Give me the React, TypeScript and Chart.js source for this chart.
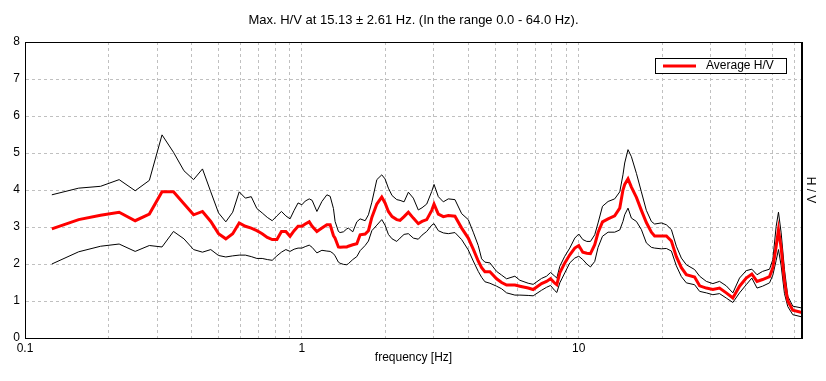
import React, { useEffect, useRef } from 'react';
import { Chart, registerables } from 'chart.js';

Chart.register(...registerables);

const FONT = '"Liberation Sans", Arial, Helvetica, sans-serif';
const TITLE = 'Max. H/V at 15.13 ± 2.61 Hz. (In the range 0.0 - 64.0 Hz).';
const X_TITLE = 'frequency [Hz]';
const Y_TITLE = 'H / V';
const AVERAGE_LABEL = 'Average H/V';

const frequencies = [
  0.125, 0.15625, 0.1875, 0.21875, 0.25, 0.28125, 0.3125, 0.34375, 0.375, 0.40625,
  0.4375, 0.46875, 0.5, 0.53125, 0.5625, 0.59375, 0.625, 0.65625, 0.6875, 0.71875,
  0.75, 0.78125, 0.8125, 0.84375, 0.875, 0.90625, 0.9375, 0.96875,
  1.0, 1.028, 1.063, 1.089, 1.133, 1.181, 1.231, 1.265, 1.3, 1.318,
  1.355, 1.374, 1.413, 1.453, 1.472, 1.527, 1.579, 1.623, 1.692, 1.739,
  1.789, 1.865, 1.943, 1.997, 2.053, 2.117, 2.201, 2.262, 2.339, 2.424,
  2.526, 2.633, 2.716, 2.824, 2.944, 3.001, 3.11, 3.242, 3.379, 3.571,
  3.776, 3.989, 4.158, 4.334, 4.458, 4.581, 4.776, 5.049, 5.264, 5.487,
  5.878, 6.127, 6.565, 6.843, 7.337, 7.648, 7.907, 8.194, 8.331, 8.541,
  8.902, 9.28, 9.673, 10.0, 10.34, 10.69, 11.02, 11.42, 11.74, 12.18,
  12.76, 13.48, 14.06, 14.44, 14.65, 15.06, 15.49, 16.15, 16.83, 17.54,
  18.29, 18.79, 19.87, 20.72, 21.6, 22.51, 23.47, 24.46, 26.2, 27.32,
  28.88, 30.5, 32.24, 34.09, 36.01, 38.07, 40.25, 42.17, 44.03, 46.1,
  48.86, 50.22, 51.63, 52.63, 53.82, 55.32, 56.86, 59.28, 64.0,
];

const upperHV = [
  3.87, 4.05, 4.1, 4.28, 3.98, 4.26, 5.49, 5.02, 4.52, 4.28,
  4.57, 3.95, 3.38, 3.14, 3.4, 3.95, 3.78, 3.82, 3.5, 3.38,
  3.26, 3.17, 3.3, 3.42, 3.3, 3.22, 3.45, 3.65,
  3.6, 3.7, 3.76, 3.72, 3.42, 3.69, 3.87, 3.83, 3.5, 3.15,
  2.88, 2.85, 2.87, 2.95, 2.97, 2.87, 3.14, 3.22, 3.17, 3.33,
  3.67, 4.28, 4.41, 4.3, 4.05, 3.85, 3.74, 3.72, 3.68, 3.94,
  3.78, 3.46, 3.52, 3.62, 3.96, 4.15, 3.82, 3.68, 3.76, 3.74,
  3.36, 3.2, 2.86, 2.5, 2.14, 2.05, 2.03, 1.8, 1.7, 1.6,
  1.67, 1.56, 1.48, 1.45, 1.61, 1.67, 1.77, 1.67, 1.62, 1.94,
  2.21, 2.43, 2.7, 2.81, 2.66, 2.61, 2.61, 2.79, 3.11, 3.56,
  3.69, 3.76, 3.95, 4.41, 4.73, 5.09, 4.9, 4.45, 3.95, 3.45,
  3.15, 3.08, 3.11, 3.06, 2.93, 2.48, 2.16, 1.98, 1.85, 1.67,
  1.53, 1.47, 1.53, 1.41, 1.22, 1.62, 1.82, 1.86, 1.71, 1.8,
  1.86, 2.12, 3.02, 3.4, 2.84, 1.85, 1.13, 0.86, 0.81,
];

const averageHV = [
  2.95, 3.2, 3.32, 3.4, 3.17, 3.35, 3.95, 3.95, 3.63, 3.33,
  3.42, 3.15, 2.82, 2.68, 2.82, 3.11, 3.02, 2.97, 2.9, 2.82,
  2.72, 2.66, 2.66, 2.88, 2.88, 2.75, 2.9, 3.02,
  3.02, 3.08, 3.14, 3.02, 2.88, 2.97, 3.06, 3.06, 2.77, 2.7,
  2.46, 2.45, 2.46, 2.46, 2.48, 2.52, 2.55, 2.79, 2.81, 2.9,
  3.26, 3.62, 3.81, 3.65, 3.42, 3.28, 3.2, 3.18, 3.28, 3.4,
  3.24, 3.09, 3.15, 3.2, 3.45, 3.62, 3.35, 3.28, 3.31, 3.29,
  2.97, 2.7, 2.4, 2.08, 1.9, 1.79, 1.79, 1.6, 1.5, 1.43,
  1.43, 1.4, 1.35, 1.31, 1.47, 1.53, 1.6, 1.48, 1.44, 1.76,
  2.03, 2.25, 2.43, 2.5, 2.32, 2.29, 2.28, 2.52, 2.85, 3.14,
  3.22, 3.3, 3.51, 4.0, 4.15, 4.3, 4.08, 3.8, 3.45, 3.12,
  2.86, 2.76, 2.76, 2.76, 2.62, 2.2, 1.9, 1.71, 1.65, 1.41,
  1.35, 1.31, 1.35, 1.22, 1.08, 1.4, 1.62, 1.73, 1.53, 1.58,
  1.66, 1.9, 2.48, 2.93, 2.43, 1.53, 1.0, 0.75, 0.69,
];

const lowerHV = [
  2.0, 2.33, 2.48, 2.54, 2.34, 2.5, 2.46, 2.88, 2.68, 2.39,
  2.32, 2.39, 2.23, 2.19, 2.22, 2.24, 2.24, 2.2, 2.15, 2.15,
  2.12, 2.1, 2.22, 2.32, 2.39, 2.34, 2.4, 2.43,
  2.43, 2.47, 2.51, 2.45, 2.3, 2.37, 2.35, 2.34, 2.28, 2.22,
  2.05, 2.02, 1.99, 1.98, 2.01, 2.12, 2.2, 2.36, 2.5, 2.62,
  2.9, 3.05, 3.2, 3.05, 2.8, 2.68, 2.61, 2.7, 2.8, 2.82,
  2.7, 2.67, 2.78, 2.88, 3.05, 3.09, 2.9, 2.84, 2.82, 2.85,
  2.66, 2.38, 2.08, 1.8, 1.64, 1.52, 1.48, 1.4, 1.33, 1.22,
  1.16, 1.16, 1.15, 1.14, 1.29, 1.37, 1.42, 1.28, 1.23, 1.49,
  1.76, 2.03, 2.16, 2.21, 2.12, 2.0, 1.92, 2.07, 2.45, 2.75,
  2.86, 2.86, 2.92, 3.15, 3.33, 3.51, 3.24, 3.15, 2.93, 2.57,
  2.45, 2.43, 2.41, 2.42, 2.35, 1.95, 1.66, 1.49, 1.44, 1.26,
  1.22, 1.17, 1.2, 1.08, 0.96, 1.22, 1.44, 1.62, 1.35, 1.4,
  1.49, 1.7, 2.1, 2.39, 1.95, 1.2, 0.85, 0.63, 0.57,
];

const xGridValues = [
  0.1, 0.2, 0.3, 0.4, 0.5, 0.6, 0.7, 0.8, 0.9,
  1, 2, 3, 4, 5, 6, 7, 8, 9,
  10, 20, 30, 40, 50, 60,
];
const xTickLabels = ['0.1', '1', '10'];
const yTickValues = [0, 1, 2, 3, 4, 5, 6, 7, 8];

const framePlugin = {
  id: 'frame',
  afterDatasetsDraw(chart: any) {
    const { ctx, chartArea: a } = chart;
    ctx.save();
    ctx.setLineDash([]);
    ctx.strokeStyle = '#000';
    ctx.lineWidth = 1;
    const l = Math.round(a.left) + 0.5;
    const t = Math.round(a.top) + 0.5;
    const r = Math.round(a.right) - 0.5;
    const b = Math.round(a.bottom) + 0.5;
    ctx.strokeRect(l, t, r - l, b - t);
    ctx.restore();
  },
};

const legendBoxPlugin = {
  id: 'legendBox',
  afterDraw(chart: any) {
    const { ctx, chartArea: a } = chart;
    const ds = chart.data.datasets[0];
    const label = ds.label as string;
    ctx.save();
    ctx.font = `12px ${FONT}`;
    const tw = ctx.measureText(label).width;
    const w = Math.round(51 + tw + 12);
    const h = 15;
    const right = Math.round(a.right) - 16;
    const left = right - w;
    const top = Math.round(a.top) + 16;
    ctx.fillStyle = '#fff';
    ctx.fillRect(left, top, w, h);
    ctx.strokeStyle = '#000';
    ctx.lineWidth = 1;
    ctx.setLineDash([]);
    ctx.strokeRect(left + 0.5, top + 0.5, w, h);
    ctx.strokeStyle = ds.borderColor;
    ctx.lineWidth = 3;
    ctx.beginPath();
    ctx.moveTo(left + 8, top + 8);
    ctx.lineTo(left + 41, top + 8);
    ctx.stroke();
    ctx.fillStyle = '#000';
    ctx.textBaseline = 'middle';
    ctx.textAlign = 'left';
    ctx.fillText(label, left + 51, top + 8);
    ctx.restore();
  },
};

export default function App() {
  const canvasRef = useRef<HTMLCanvasElement | null>(null);

  useEffect(() => {
    const canvas = canvasRef.current;
    if (!canvas) return;
    Chart.defaults.font.family = FONT;
    Chart.defaults.font.size = 12;
    Chart.defaults.color = '#000';

    const toPoints = (vals: number[]) => frequencies.map((f, i) => ({ x: f, y: vals[i] }));
    const gridColor = '#c0c0c0';

    const chart = new Chart(canvas, {
      type: 'line',
      data: {
        datasets: [
          {
            label: AVERAGE_LABEL,
            data: toPoints(averageHV),
            borderColor: '#ff0000',
            borderWidth: 3,
            pointRadius: 0,
            tension: 0,
            fill: false,
          },
          {
            label: 'upper',
            data: toPoints(upperHV),
            borderColor: '#000000',
            borderWidth: 1,
            pointRadius: 0,
            tension: 0,
            fill: false,
          },
          {
            label: 'lower',
            data: toPoints(lowerHV),
            borderColor: '#000000',
            borderWidth: 1,
            pointRadius: 0,
            tension: 0,
            fill: false,
          },
        ],
      },
      options: {
        animation: false,
        responsive: false,
        devicePixelRatio: 1,
        events: [],
        layout: { padding: { left: 0, right: 8, top: 0, bottom: 16 } },
        plugins: {
          legend: { display: false },
          tooltip: { enabled: false },
          title: {
            display: true,
            text: TITLE,
            fullSize: false,
            color: '#000',
            font: { size: 13, weight: 'normal', family: FONT },
            padding: { top: 12.4, bottom: 14 },
          },
        },
        scales: {
          x: {
            type: 'logarithmic',
            min: 0.1,
            max: 64,
            afterBuildTicks: (s: any) => {
              s.ticks = xGridValues.map((v) => ({ value: v }));
            },
            afterFit: (s: any) => {
              s.height = 27;
            },
            ticks: {
              autoSkip: false,
              maxRotation: 0,
              minRotation: 0,
              padding: 3,
              color: '#000',
              callback: (v: any) => (xTickLabels.includes(String(v)) ? String(v) : ''),
            },
            grid: { color: gridColor, drawTicks: false, lineWidth: 1 },
            border: { color: '#000', dash: [3, 3] },
            title: { display: true, text: X_TITLE, color: '#000', padding: 0, font: { size: 12 } },
          },
          y: {
            type: 'linear',
            min: 0,
            max: 8,
            afterBuildTicks: (s: any) => {
              s.ticks = yTickValues.map((v) => ({ value: v }));
            },
            afterFit: (s: any) => {
              s.width = 25;
            },
            ticks: { padding: 5, color: '#000' },
            grid: { color: gridColor, drawTicks: false, lineWidth: 1 },
            border: { color: '#000', dash: [3, 3] },
          },
          y2: {
            type: 'linear',
            position: 'right',
            min: 0,
            max: 8,
            afterFit: (s: any) => {
              s.width = 16;
            },
            ticks: { display: false },
            grid: { drawOnChartArea: false, drawTicks: false },
            border: { display: true, color: '#000' },
            title: { display: true, text: Y_TITLE, color: '#000', padding: 0, font: { size: 12 } },
          },
        },
      },
      plugins: [framePlugin, legendBoxPlugin],
    } as any);

    return () => chart.destroy();
  }, []);

  return (
    <div style={{ position: 'fixed', left: 0, top: 0, width: 826, height: 381, background: '#fff' }}>
      <canvas ref={canvasRef} width={826} height={381} style={{ width: 826, height: 381, display: 'block' }} />
    </div>
  );
}
